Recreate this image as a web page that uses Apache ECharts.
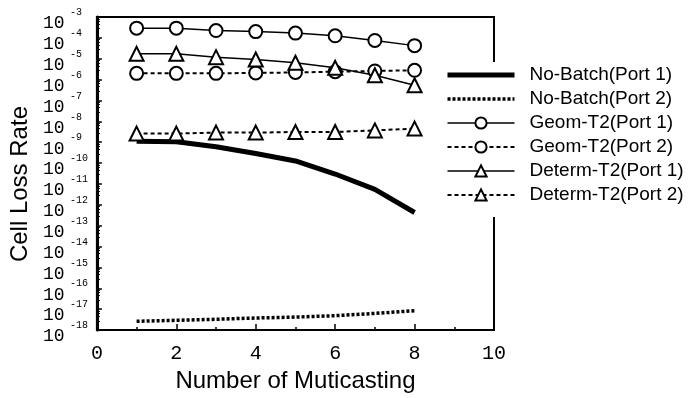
<!DOCTYPE html>
<html>
<head>
<meta charset="utf-8">
<script src="https://cdn.jsdelivr.net/npm/echarts@6/dist/echarts.min.js"></script>
<style>
html,body{margin:0;padding:0;background:#fff;}
#chart{width:688px;height:398px;}
</style>
</head>
<body>
<div id="chart"></div>
<script>
var multicast = [1, 2, 3, 4, 5, 6, 7, 8];
var noBatchP1 = [1.12e-9, 1.05e-9, 6.1e-10, 2.9e-10, 1.27e-10, 3.0e-11, 5.5e-12, 4.3e-13];
var noBatchP2 = [2.65e-18, 2.96e-18, 3.3e-18, 3.8e-18, 4.2e-18, 4.9e-18, 6.3e-18, 8.5e-18];
var geomP1 = [2.92e-4, 2.92e-4, 2.25e-4, 2.0e-4, 1.69e-4, 1.26e-4, 7.5e-5, 4.25e-5];
var geomP2 = [2.0e-6, 2.0e-6, 2.0e-6, 2.1e-6, 2.2e-6, 2.4e-6, 2.6e-6, 2.8e-6];
var determP1 = [1.72e-5, 1.72e-5, 1.19e-5, 9.2e-6, 6.4e-6, 3.66e-6, 1.61e-6, 5.4e-7];
var determP2 = [2.6e-9, 2.6e-9, 2.9e-9, 2.9e-9, 3.1e-9, 3.1e-9, 3.7e-9, 4.5e-9];
var seriesNames = ['No-Batch(Port 1)', 'No-Batch(Port 2)', 'Geom-T2(Port 1)', 'Geom-T2(Port 2)', 'Determ-T2(Port 1)', 'Determ-T2(Port 2)'];
var xTicks = [0, 2, 4, 6, 8, 10];
var yMin = 1e-18, yMax = 1e-3;

function pairs(vals) {
  return multicast.map(function (x, i) { return [x, vals[i]]; });
}
function expOf(v) { return Math.round(Math.log(v) / Math.LN10); }
var mark = { color: '#fff', borderColor: '#000', borderWidth: 2 };
var hiddenIcon = { opacity: 0, color: 'rgba(0,0,0,0)', borderWidth: 0 };

var chart = echarts.init(document.getElementById('chart'), null, { renderer: 'canvas' });
chart.setOption({
  animation: false,
  backgroundColor: '#fff',
  grid: { left: 93, right: 194, top: 17, bottom: 64, show: true, borderColor: '#000', borderWidth: 2 },
  legend: {
    orient: 'vertical',
    left: 440, top: 62,
    padding: [3, 10, 12, 5],
    backgroundColor: '#fff',
    itemWidth: 67, itemHeight: 14, itemGap: 4,
    data: [
      { name: seriesNames[0], itemStyle: hiddenIcon },
      { name: seriesNames[1], itemStyle: hiddenIcon },
      seriesNames[2], seriesNames[3], seriesNames[4], seriesNames[5]
    ],
    lineStyle: { width: 'inherit', type: 'inherit', color: 'inherit' },
    textStyle: { fontFamily: 'Liberation Sans', fontSize: 19, color: '#000', lineHeight: 20, padding: [0, 0, 0, 10] }
  },
  xAxis: {
    type: 'value', min: 0, max: 10, interval: 2,
    name: 'Number of Muticasting', nameLocation: 'middle', nameGap: 34,
    nameTextStyle: { fontFamily: 'Liberation Sans', fontSize: 24, color: '#000' },
    axisLine: { show: true, lineStyle: { color: '#000', width: 1.5 } },
    axisTick: { show: true, inside: true, length: 6, lineStyle: { color: '#000', width: 1.5 } },
    minorTick: { show: true, splitNumber: 2, length: 3, lineStyle: { color: '#000', width: 1.5 } },
    splitLine: { show: false },
    axisLabel: {
      margin: 14, fontFamily: 'Liberation Mono', fontSize: 20, color: '#000',
      formatter: function (v) { return xTicks.indexOf(v) >= 0 ? String(v) : ''; }
    }
  },
  yAxis: [{
    type: 'log', logBase: 10, min: yMin, max: yMax, interval: 1, splitNumber: 15,
    name: 'Cell Loss Rate', nameLocation: 'middle', nameGap: 58,
    nameTextStyle: { fontFamily: 'Liberation Sans', fontSize: 24, color: '#000', padding: [0, 21, 0, 0] },
    axisLine: { show: true, lineStyle: { color: '#000', width: 3 } },
    axisTick: { show: true, inside: true, length: 5, lineStyle: { color: '#000', width: 1.5 } },
    minorTick: { show: true, splitNumber: 5, length: 3, lineStyle: { color: '#000', width: 1 } },
    splitLine: { show: false },
    axisLabel: {
      align: 'left', verticalAlign: 'top', margin: 54, lineHeight: 13,
      fontFamily: 'Liberation Mono', fontSize: 18, color: '#000',
      showMinLabel: true, showMaxLabel: true,
      formatter: function () { return '10'; }
    }
  }, {
    type: 'log', logBase: 10, min: yMin, max: yMax, interval: 1, splitNumber: 15,
    position: 'left', offset: 0,
    axisLine: { show: false }, axisTick: { show: false }, splitLine: { show: false },
    minorTick: { show: false },
    axisLabel: {
      align: 'left', verticalAlign: 'bottom', margin: 27, lineHeight: 9,
      fontFamily: 'Liberation Mono', fontSize: 10, color: '#000',
      showMinLabel: true, showMaxLabel: true,
      formatter: function (v) { return String(expOf(v)); }
    }
  }],
  series: [
    { name: seriesNames[0], type: 'line', data: pairs(noBatchP1), symbol: 'none',
      lineStyle: { color: '#000', width: 5 }, itemStyle: { color: '#000' } },
    { name: seriesNames[1], type: 'line', data: pairs(noBatchP2), symbol: 'none',
      lineStyle: { color: '#000', width: 3.5, type: [3, 2] }, itemStyle: { color: '#000' } },
    { name: seriesNames[2], type: 'line', data: pairs(geomP1), symbol: 'circle', symbolSize: 13,
      lineStyle: { color: '#000', width: 1.5 }, itemStyle: mark },
    { name: seriesNames[3], type: 'line', data: pairs(geomP2), symbol: 'circle', symbolSize: 13,
      lineStyle: { color: '#000', width: 2, type: [4, 3] }, itemStyle: mark },
    { name: seriesNames[4], type: 'line', data: pairs(determP1), symbol: 'triangle', symbolSize: 14,
      lineStyle: { color: '#000', width: 1.5 }, itemStyle: mark },
    { name: seriesNames[5], type: 'line', data: pairs(determP2), symbol: 'triangle', symbolSize: 14,
      lineStyle: { color: '#000', width: 2, type: [4, 3] }, itemStyle: mark }
  ]
});
</script>
</body>
</html>
